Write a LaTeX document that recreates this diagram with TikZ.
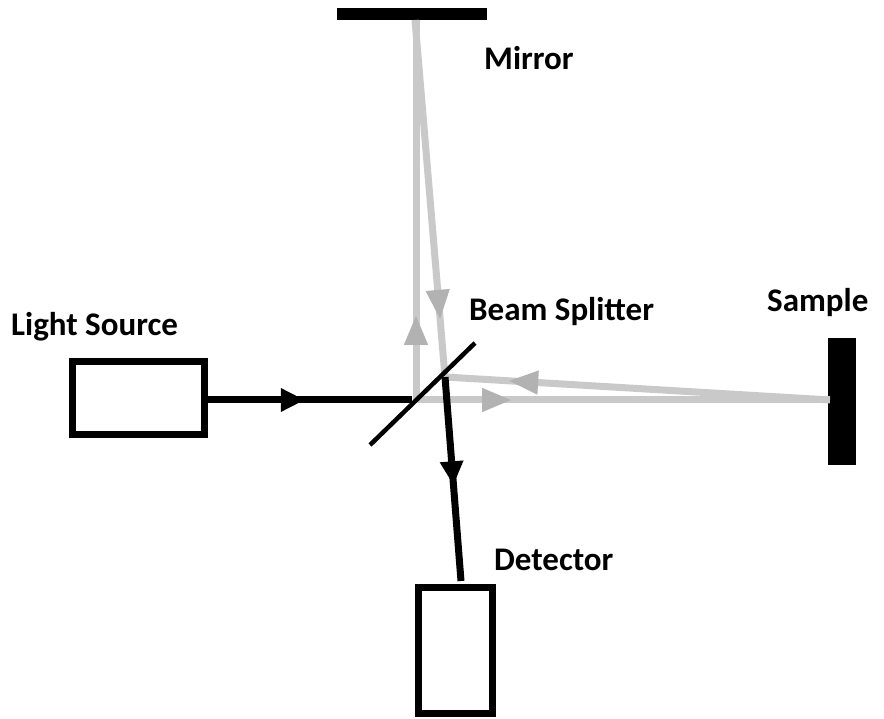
\documentclass[tikz,border=0pt]{standalone}
\usepackage{fontspec}
\setmainfont{Carlito}
\usetikzlibrary{arrows.meta}
\usetikzlibrary{decorations.markings}

\definecolor{beamgray}{gray}{0.79}
\definecolor{tipgray}{gray}{0.70}

\tikzset{
	box/.style={draw, line width=7pt, fill=white, inner sep=0pt},
	plate/.style={fill=black, inner sep=0pt},
	name label/.style={font=\fontsize{33}{36}\selectfont\bfseries, anchor=west, inner sep=0pt},
	black beam/.style={draw=black, line width=7pt},
	gray beam/.style={draw=beamgray, line width=7pt},
	black tip/.style={postaction={decorate}, decoration={markings, mark=at position #1 with {\arrow{Triangle[length=24pt,width=22pt]}}}},
	gray tip/.style={postaction={decorate}, decoration={markings, mark=at position #1 with {\arrow[tipgray]{Triangle[length=30pt,width=22pt]}}}}
}

\begin{document}
\begin{tikzpicture}[x=1pt,y=-1pt]
	\useasboundingbox (0,0) rectangle (884,719);

	% Define the coordinates of the points
	\coordinate (a) at (412,400);
	\coordinate (b) at (416,400);
	\coordinate (c) at (416,20);
	\coordinate (d) at (415,20);
	\coordinate (e) at (445,377);
	\coordinate (f) at (830,400);
	\coordinate (g) at (370,445);
	\coordinate (h) at (475,343);

	% Draw the parts
	\node[box, minimum width=132pt, minimum height=73pt] (source) at (138.5,398) {};
	\node[box, minimum width=74pt, minimum height=126pt] (detector) at (455.5,650.5) {};
	\node[plate, minimum width=150pt, minimum height=12pt] (mirror) at (412,14) {};
	\node[plate, minimum width=28pt, minimum height=127pt] (sample) at (842,401.5) {};

	% Draw the beams
	\draw[gray beam, gray tip=0.224] (b) -- (c);
	\draw[gray beam, gray tip=0.84] (d) -- (e);
	\draw[gray beam, gray tip=0.232] (b) -- (f);
	\draw[gray beam, gray tip=0.836] (f) -- (e);
	\draw[black beam, black tip=0.475] (source.east |- a) -- (a);
	\draw[black beam, black tip=0.531] (e) -- (461,581);
	\draw[line width=4.5pt] (g) -- (h);

	% Draw the labels
	\node[name label] (mirrorlabel) at (484,58) {Mirror};
	\node[name label] (splitterlabel) at (469,312) {Beam Splitter};
	\node[name label] (samplelabel) at (767,303) {Sample};
	\node[name label] (sourcelabel) at (11,327) {Light Source};
	\node[name label] (detectorlabel) at (494,560) {Detector};
\end{tikzpicture}
\end{document}
